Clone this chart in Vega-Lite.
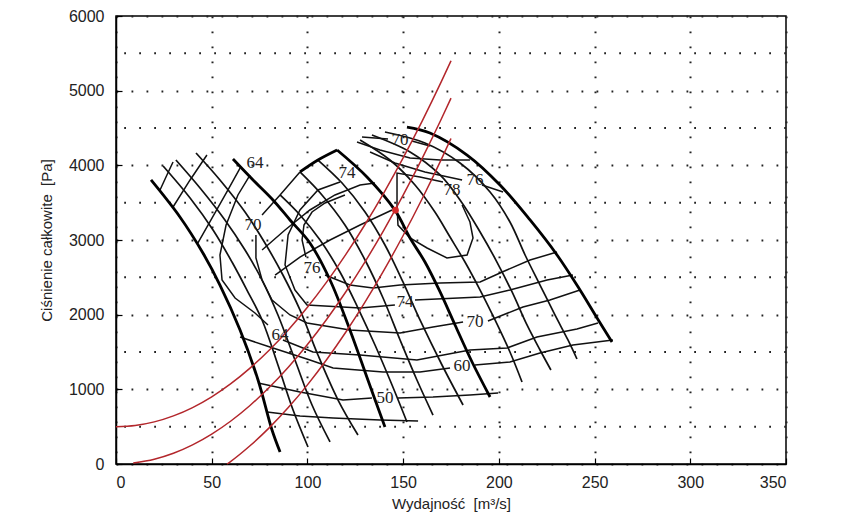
{
  "$schema": "https://vega.github.io/schema/vega-lite/v6.json",
  "width": 670,
  "height": 448,
  "autosize": {"type": "none"},
  "padding": {"left": 116, "top": 16, "right": 55, "bottom": 61},
  "background": "white",
  "config": {
    "view": {"stroke": "black", "strokeWidth": 1.5},
    "axis": {
      "domainColor": "black", "domainWidth": 1.5,
      "tickColor": "black", "tickWidth": 1.2, "tickSize": -6,
      "grid": true, "gridColor": "#222222", "gridWidth": 2, "gridDash": [1.8, 13.2], "gridOpacity": 1,
      "labelFont": "Liberation Sans", "labelFontSize": 16, "labelColor": "#222222",
      "titleFont": "Liberation Sans", "titleFontSize": 15, "titleFontWeight": "normal", "titleColor": "#222222"
    }
  },
  "datasets": {
    "halfgrid": [{"g":500},{"g":1500},{"g":2500},{"g":3500},{"g":4500},{"g":5500}],
    "curves": [
      {"id":"R1","k":"red","o":0,"x":0,"y":500},{"id":"R1","k":"red","o":1,"x":10,"y":516},{"id":"R1","k":"red","o":2,"x":20,"y":564},{"id":"R1","k":"red","o":3,"x":30,"y":644},{"id":"R1","k":"red","o":4,"x":40,"y":756},{"id":"R1","k":"red","o":5,"x":50,"y":900},{"id":"R1","k":"red","o":6,"x":60,"y":1076},{"id":"R1","k":"red","o":7,"x":70,"y":1284},{"id":"R1","k":"red","o":8,"x":80,"y":1524},{"id":"R1","k":"red","o":9,"x":90,"y":1796},{"id":"R1","k":"red","o":10,"x":100,"y":2100},{"id":"R1","k":"red","o":11,"x":110,"y":2436},{"id":"R1","k":"red","o":12,"x":120,"y":2804},{"id":"R1","k":"red","o":13,"x":130,"y":3204},{"id":"R1","k":"red","o":14,"x":140,"y":3636},{"id":"R1","k":"red","o":15,"x":150,"y":4100},{"id":"R1","k":"red","o":16,"x":160,"y":4596},{"id":"R1","k":"red","o":17,"x":170,"y":5124},{"id":"R1","k":"red","o":18,"x":175,"y":5400},
      {"id":"R2","k":"red","o":0,"x":9,"y":13},{"id":"R2","k":"red","o":1,"x":20,"y":64},{"id":"R2","k":"red","o":2,"x":30,"y":144},{"id":"R2","k":"red","o":3,"x":40,"y":256},{"id":"R2","k":"red","o":4,"x":50,"y":400},{"id":"R2","k":"red","o":5,"x":60,"y":576},{"id":"R2","k":"red","o":6,"x":70,"y":784},{"id":"R2","k":"red","o":7,"x":80,"y":1024},{"id":"R2","k":"red","o":8,"x":90,"y":1296},{"id":"R2","k":"red","o":9,"x":100,"y":1600},{"id":"R2","k":"red","o":10,"x":110,"y":1936},{"id":"R2","k":"red","o":11,"x":120,"y":2304},{"id":"R2","k":"red","o":12,"x":130,"y":2704},{"id":"R2","k":"red","o":13,"x":140,"y":3136},{"id":"R2","k":"red","o":14,"x":150,"y":3600},{"id":"R2","k":"red","o":15,"x":160,"y":4096},{"id":"R2","k":"red","o":16,"x":170,"y":4624},{"id":"R2","k":"red","o":17,"x":175,"y":4900},
      {"id":"R3","k":"red","o":0,"x":58,"y":0},{"id":"R3","k":"red","o":1,"x":60,"y":36},{"id":"R3","k":"red","o":2,"x":70,"y":244},{"id":"R3","k":"red","o":3,"x":80,"y":484},{"id":"R3","k":"red","o":4,"x":90,"y":756},{"id":"R3","k":"red","o":5,"x":100,"y":1060},{"id":"R3","k":"red","o":6,"x":110,"y":1396},{"id":"R3","k":"red","o":7,"x":120,"y":1764},{"id":"R3","k":"red","o":8,"x":130,"y":2164},{"id":"R3","k":"red","o":9,"x":140,"y":2596},{"id":"R3","k":"red","o":10,"x":150,"y":3060},{"id":"R3","k":"red","o":11,"x":160,"y":3556},{"id":"R3","k":"red","o":12,"x":170,"y":4084},{"id":"R3","k":"red","o":13,"x":175,"y":4360},

      {"id":"G1D1","k":"thick","o":0,"x":18.3,"y":3804},{"id":"G1D1","k":"thick","o":1,"x":33.4,"y":3308},{"id":"G1D1","k":"thick","o":2,"x":45.4,"y":2826},{"id":"G1D1","k":"thick","o":3,"x":54.3,"y":2397},{"id":"G1D1","k":"thick","o":4,"x":64.8,"y":1795},{"id":"G1D1","k":"thick","o":5,"x":74.2,"y":1125},{"id":"G1D1","k":"thick","o":6,"x":81.5,"y":455},{"id":"G1D1","k":"thick","o":7,"x":85.7,"y":161},
      {"id":"G1D5","k":"thick","o":0,"x":61.1,"y":4085},{"id":"G1D5","k":"thick","o":1,"x":71.6,"y":3804},{"id":"G1D5","k":"thick","o":2,"x":82.0,"y":3536},{"id":"G1D5","k":"thick","o":3,"x":90.9,"y":3268},{"id":"G1D5","k":"thick","o":4,"x":101.3,"y":2960},{"id":"G1D5","k":"thick","o":5,"x":111.8,"y":2464},{"id":"G1D5","k":"thick","o":6,"x":122.2,"y":1795},{"id":"G1D5","k":"thick","o":7,"x":131.6,"y":1125},{"id":"G1D5","k":"thick","o":8,"x":140.5,"y":496},
      {"id":"G2T","k":"thick","o":0,"x":96.1,"y":3911},{"id":"G2T","k":"thick","o":1,"x":105.5,"y":4071},{"id":"G2T","k":"thick","o":2,"x":115.5,"y":4205},
      {"id":"G2D4","k":"thick","o":0,"x":115.5,"y":4205},{"id":"G2D4","k":"thick","o":1,"x":131.1,"y":3844},{"id":"G2D4","k":"thick","o":2,"x":145.7,"y":3400},{"id":"G2D4","k":"thick","o":3,"x":153.6,"y":3027},{"id":"G2D4","k":"thick","o":4,"x":161.4,"y":2705},{"id":"G2D4","k":"thick","o":5,"x":169.3,"y":2304},{"id":"G2D4","k":"thick","o":6,"x":177.1,"y":1862},{"id":"G2D4","k":"thick","o":7,"x":186.0,"y":1366},{"id":"G2D4","k":"thick","o":8,"x":195.4,"y":897},
      {"id":"G3O","k":"thick","o":0,"x":152.0,"y":4513},{"id":"G3O","k":"thick","o":1,"x":164.0,"y":4433},{"id":"G3O","k":"thick","o":2,"x":183.4,"y":4138},{"id":"G3O","k":"thick","o":3,"x":200.6,"y":3737},{"id":"G3O","k":"thick","o":4,"x":216.3,"y":3268},{"id":"G3O","k":"thick","o":5,"x":230.4,"y":2799},{"id":"G3O","k":"thick","o":6,"x":242.4,"y":2330},{"id":"G3O","k":"thick","o":7,"x":251.3,"y":1955},{"id":"G3O","k":"thick","o":8,"x":259.1,"y":1634},

      {"id":"G1D2","k":"thin","o":0,"x":24.6,"y":3991},{"id":"G1D2","k":"thin","o":1,"x":38.7,"y":3563},{"id":"G1D2","k":"thin","o":2,"x":50.7,"y":3134},{"id":"G1D2","k":"thin","o":3,"x":60.6,"y":2705},{"id":"G1D2","k":"thin","o":4,"x":68.4,"y":2330},{"id":"G1D2","k":"thin","o":5,"x":76.3,"y":1929},{"id":"G1D2","k":"thin","o":6,"x":84.6,"y":1326},{"id":"G1D2","k":"thin","o":7,"x":92.5,"y":723},{"id":"G1D2","k":"thin","o":8,"x":100.3,"y":228},
      {"id":"G1D3","k":"thin","o":0,"x":31.3,"y":4071},{"id":"G1D3","k":"thin","o":1,"x":43.9,"y":3696},{"id":"G1D3","k":"thin","o":2,"x":56.9,"y":3268},{"id":"G1D3","k":"thin","o":3,"x":67.4,"y":2866},{"id":"G1D3","k":"thin","o":4,"x":76.3,"y":2464},{"id":"G1D3","k":"thin","o":5,"x":84.6,"y":1996},{"id":"G1D3","k":"thin","o":6,"x":93.5,"y":1393},{"id":"G1D3","k":"thin","o":7,"x":102.4,"y":790},{"id":"G1D3","k":"thin","o":8,"x":111.8,"y":295},
      {"id":"G1D4","k":"thin","o":0,"x":41.8,"y":4165},{"id":"G1D4","k":"thin","o":1,"x":54.3,"y":3804},{"id":"G1D4","k":"thin","o":2,"x":67.4,"y":3375},{"id":"G1D4","k":"thin","o":3,"x":77.8,"y":2960},{"id":"G1D4","k":"thin","o":4,"x":87.2,"y":2531},{"id":"G1D4","k":"thin","o":5,"x":96.1,"y":2063},{"id":"G1D4","k":"thin","o":6,"x":105.5,"y":1460},{"id":"G1D4","k":"thin","o":7,"x":116.0,"y":857},{"id":"G1D4","k":"thin","o":8,"x":126.4,"y":388},
      {"id":"G2D1","k":"thin","o":0,"x":85.7,"y":3603},{"id":"G2D1","k":"thin","o":1,"x":96.1,"y":3335},{"id":"G2D1","k":"thin","o":2,"x":106.6,"y":3000},{"id":"G2D1","k":"thin","o":3,"x":117.0,"y":2571},{"id":"G2D1","k":"thin","o":4,"x":126.4,"y":2089},{"id":"G2D1","k":"thin","o":5,"x":135.3,"y":1594},{"id":"G2D1","k":"thin","o":6,"x":144.2,"y":1058},{"id":"G2D1","k":"thin","o":7,"x":152.0,"y":563},
      {"id":"G2D2","k":"thin","o":0,"x":96.1,"y":3911},{"id":"G2D2","k":"thin","o":1,"x":107.6,"y":3603},{"id":"G2D2","k":"thin","o":2,"x":119.6,"y":3201},{"id":"G2D2","k":"thin","o":3,"x":130.1,"y":2732},{"id":"G2D2","k":"thin","o":4,"x":139.5,"y":2223},{"id":"G2D2","k":"thin","o":5,"x":148.4,"y":1661},{"id":"G2D2","k":"thin","o":6,"x":157.2,"y":1125},{"id":"G2D2","k":"thin","o":7,"x":165.6,"y":656},
      {"id":"G2D3","k":"thin","o":0,"x":105.5,"y":4071},{"id":"G2D3","k":"thin","o":1,"x":118.1,"y":3763},{"id":"G2D3","k":"thin","o":2,"x":130.1,"y":3375},{"id":"G2D3","k":"thin","o":3,"x":140.5,"y":2933},{"id":"G2D3","k":"thin","o":4,"x":149.9,"y":2438},{"id":"G2D3","k":"thin","o":5,"x":158.8,"y":1929},{"id":"G2D3","k":"thin","o":6,"x":170.3,"y":1326},{"id":"G2D3","k":"thin","o":7,"x":181.3,"y":790},
      {"id":"G3D1","k":"thin","o":0,"x":127.5,"y":4339},{"id":"G3D1","k":"thin","o":1,"x":143.1,"y":4071},{"id":"G3D1","k":"thin","o":2,"x":156.2,"y":3737},{"id":"G3D1","k":"thin","o":3,"x":166.6,"y":3375},{"id":"G3D1","k":"thin","o":4,"x":174.5,"y":3040},{"id":"G3D1","k":"thin","o":5,"x":182.3,"y":2705},{"id":"G3D1","k":"thin","o":6,"x":190.2,"y":2330},{"id":"G3D1","k":"thin","o":7,"x":198.0,"y":1929},{"id":"G3D1","k":"thin","o":8,"x":205.8,"y":1500},{"id":"G3D1","k":"thin","o":9,"x":212.1,"y":1098},
      {"id":"G3D2","k":"thin","o":0,"x":133.7,"y":4406},{"id":"G3D2","k":"thin","o":1,"x":153.6,"y":4179},{"id":"G3D2","k":"thin","o":2,"x":169.3,"y":3871},{"id":"G3D2","k":"thin","o":3,"x":180.8,"y":3496},{"id":"G3D2","k":"thin","o":4,"x":190.2,"y":3107},{"id":"G3D2","k":"thin","o":5,"x":199.0,"y":2705},{"id":"G3D2","k":"thin","o":6,"x":206.9,"y":2304},{"id":"G3D2","k":"thin","o":7,"x":214.7,"y":1862},{"id":"G3D2","k":"thin","o":8,"x":221.5,"y":1527},{"id":"G3D2","k":"thin","o":9,"x":227.2,"y":1259},
      {"id":"G3D3","k":"thin","o":0,"x":140.5,"y":4446},{"id":"G3D3","k":"thin","o":1,"x":161.4,"y":4299},{"id":"G3D3","k":"thin","o":2,"x":179.7,"y":4031},{"id":"G3D3","k":"thin","o":3,"x":195.4,"y":3643},{"id":"G3D3","k":"thin","o":4,"x":205.8,"y":3241},{"id":"G3D3","k":"thin","o":5,"x":213.7,"y":2799},{"id":"G3D3","k":"thin","o":6,"x":221.5,"y":2397},{"id":"G3D3","k":"thin","o":7,"x":229.3,"y":1996},{"id":"G3D3","k":"thin","o":8,"x":236.1,"y":1661},{"id":"G3D3","k":"thin","o":9,"x":240.8,"y":1406},

      {"id":"G2L","k":"poly","o":0,"x":76.3,"y":3335},{"id":"G2L","k":"poly","o":1,"x":85.7,"y":3603},{"id":"G2L","k":"poly","o":2,"x":96.1,"y":3911},
      {"id":"H1","k":"poly","o":0,"x":78.9,"y":696},{"id":"H1","k":"poly","o":1,"x":96.1,"y":643},{"id":"H1","k":"poly","o":2,"x":113.4,"y":616},{"id":"H1","k":"poly","o":3,"x":137.9,"y":589},{"id":"H1","k":"poly","o":4,"x":157.8,"y":576},
      {"id":"H2a","k":"poly","o":0,"x":74.2,"y":1085},{"id":"H2a","k":"poly","o":1,"x":96.1,"y":964},{"id":"H2a","k":"poly","o":2,"x":118.6,"y":857},{"id":"H2a","k":"poly","o":3,"x":133.7,"y":884},
      {"id":"H2b","k":"poly","o":0,"x":147.3,"y":884},{"id":"H2b","k":"poly","o":1,"x":165.6,"y":897},{"id":"H2b","k":"poly","o":2,"x":184.9,"y":924},{"id":"H2b","k":"poly","o":3,"x":199.6,"y":951},
      {"id":"H3a","k":"poly","o":0,"x":64.8,"y":1701},{"id":"H3a","k":"poly","o":1,"x":80.4,"y":1567},{"id":"H3a","k":"poly","o":2,"x":101.3,"y":1393},{"id":"H3a","k":"poly","o":3,"x":113.4,"y":1286},{"id":"H3a","k":"poly","o":4,"x":139.5,"y":1232},{"id":"H3a","k":"poly","o":5,"x":158.8,"y":1232},{"id":"H3a","k":"poly","o":6,"x":174.5,"y":1286},
      {"id":"H3b","k":"poly","o":0,"x":187.5,"y":1326},{"id":"H3b","k":"poly","o":1,"x":205.8,"y":1366},{"id":"H3b","k":"poly","o":2,"x":221.5,"y":1487},{"id":"H3b","k":"poly","o":3,"x":238.7,"y":1594},{"id":"H3b","k":"poly","o":4,"x":259.6,"y":1661},
      {"id":"HA","k":"poly","o":0,"x":87.2,"y":1661},{"id":"HA","k":"poly","o":1,"x":102.9,"y":1500},{"id":"HA","k":"poly","o":2,"x":127.5,"y":1460},{"id":"HA","k":"poly","o":3,"x":157.2,"y":1393},{"id":"HA","k":"poly","o":4,"x":184.9,"y":1527},{"id":"HA","k":"poly","o":5,"x":204.3,"y":1554},{"id":"HA","k":"poly","o":6,"x":219.9,"y":1701},{"id":"HA","k":"poly","o":7,"x":240.8,"y":1808},{"id":"HA","k":"poly","o":8,"x":251.8,"y":1888},
      {"id":"c70a","k":"poly","o":0,"x":73.1,"y":3067},{"id":"c70a","k":"poly","o":1,"x":73.1,"y":2759},{"id":"c70a","k":"poly","o":2,"x":76.3,"y":2464},{"id":"c70a","k":"poly","o":3,"x":81.5,"y":2196},{"id":"c70a","k":"poly","o":4,"x":90.9,"y":1996},{"id":"c70a","k":"poly","o":5,"x":99.8,"y":1888},{"id":"c70a","k":"poly","o":6,"x":122.2,"y":1795},{"id":"c70a","k":"poly","o":7,"x":148.4,"y":1754},{"id":"c70a","k":"poly","o":8,"x":165.6,"y":1835},{"id":"c70a","k":"poly","o":9,"x":181.3,"y":1902},
      {"id":"c70b","k":"poly","o":0,"x":194.3,"y":1915},{"id":"c70b","k":"poly","o":1,"x":212.6,"y":2103},{"id":"c70b","k":"poly","o":2,"x":226.7,"y":2196},{"id":"c70b","k":"poly","o":3,"x":242.4,"y":2330},
      {"id":"c74a","k":"poly","o":0,"x":117.0,"y":3777},{"id":"c74a","k":"poly","o":1,"x":105.5,"y":3670},{"id":"c74a","k":"poly","o":2,"x":96.1,"y":3402},{"id":"c74a","k":"poly","o":3,"x":89.9,"y":3067},{"id":"c74a","k":"poly","o":4,"x":88.3,"y":2665},{"id":"c74a","k":"poly","o":5,"x":93.5,"y":2330},{"id":"c74a","k":"poly","o":6,"x":99.8,"y":2130},{"id":"c74a","k":"poly","o":7,"x":127.5,"y":2089},{"id":"c74a","k":"poly","o":8,"x":145.7,"y":2130},
      {"id":"c74b","k":"poly","o":0,"x":156.2,"y":2196},{"id":"c74b","k":"poly","o":1,"x":190.2,"y":2237},{"id":"c74b","k":"poly","o":2,"x":205.8,"y":2330},{"id":"c74b","k":"poly","o":3,"x":225.2,"y":2464},{"id":"c74b","k":"poly","o":4,"x":238.7,"y":2531},
      {"id":"c76a","k":"poly","o":0,"x":99.2,"y":2772},{"id":"c76a","k":"poly","o":1,"x":97.2,"y":3000},{"id":"c76a","k":"poly","o":2,"x":98.2,"y":3201},{"id":"c76a","k":"poly","o":3,"x":102.4,"y":3375},{"id":"c76a","k":"poly","o":4,"x":109.2,"y":3496},{"id":"c76a","k":"poly","o":5,"x":119.6,"y":3603},
      {"id":"c76b","k":"poly","o":0,"x":109.2,"y":2531},{"id":"c76b","k":"poly","o":1,"x":122.2,"y":2397},{"id":"c76b","k":"poly","o":2,"x":134.3,"y":2357},{"id":"c76b","k":"poly","o":3,"x":148.4,"y":2397},{"id":"c76b","k":"poly","o":4,"x":169.3,"y":2424},{"id":"c76b","k":"poly","o":5,"x":190.2,"y":2438},{"id":"c76b","k":"poly","o":6,"x":200.6,"y":2558},{"id":"c76b","k":"poly","o":7,"x":216.3,"y":2732},{"id":"c76b","k":"poly","o":8,"x":230.4,"y":2839},
      {"id":"c78","k":"poly","o":0,"x":170.8,"y":3777},{"id":"c78","k":"poly","o":1,"x":158.8,"y":3844},{"id":"c78","k":"poly","o":2,"x":146.8,"y":3897},{"id":"c78","k":"poly","o":3,"x":146.8,"y":3469},{"id":"c78","k":"poly","o":4,"x":147.3,"y":3200},{"id":"c78","k":"poly","o":5,"x":153.6,"y":3027},{"id":"c78","k":"poly","o":6,"x":162.5,"y":2893},{"id":"c78","k":"poly","o":7,"x":172.9,"y":2759},{"id":"c78","k":"poly","o":8,"x":183.4,"y":2799},{"id":"c78","k":"poly","o":9,"x":186.5,"y":3027},{"id":"c78","k":"poly","o":10,"x":184.9,"y":3241},{"id":"c78","k":"poly","o":11,"x":180.8,"y":3469},
      {"id":"c70t1","k":"poly","o":0,"x":128.5,"y":4379},{"id":"c70t1","k":"poly","o":1,"x":142.1,"y":4352},
      {"id":"c70t2","k":"poly","o":0,"x":154.6,"y":4326},{"id":"c70t2","k":"poly","o":1,"x":164.0,"y":4259},
      {"id":"c64","k":"poly","o":0,"x":70.0,"y":3870},{"id":"c64","k":"poly","o":1,"x":63.7,"y":3603},{"id":"c64","k":"poly","o":2,"x":57.5,"y":3201},{"id":"c64","k":"poly","o":3,"x":54.3,"y":2799},{"id":"c64","k":"poly","o":4,"x":55.4,"y":2464},{"id":"c64","k":"poly","o":5,"x":62.2,"y":2223},{"id":"c64","k":"poly","o":6,"x":72.6,"y":2022},{"id":"c64","k":"poly","o":7,"x":79.4,"y":1862},
      {"id":"X1","k":"poly","o":0,"x":23.0,"y":3670},{"id":"X1","k":"poly","o":1,"x":26.6,"y":3871},{"id":"X1","k":"poly","o":2,"x":29.8,"y":4045},
      {"id":"X2","k":"poly","o":0,"x":29.8,"y":3442},{"id":"X2","k":"poly","o":1,"x":38.7,"y":3804},{"id":"X2","k":"poly","o":2,"x":47.5,"y":4138},
      {"id":"X3","k":"poly","o":0,"x":42.8,"y":2960},{"id":"X3","k":"poly","o":1,"x":51.7,"y":3362},{"id":"X3","k":"poly","o":2,"x":58.5,"y":3670},{"id":"X3","k":"poly","o":3,"x":64.8,"y":3964},
      {"id":"M2","k":"poly","o":0,"x":76.3,"y":2866},{"id":"M2","k":"poly","o":1,"x":88.3,"y":3134},{"id":"M2","k":"poly","o":2,"x":101.3,"y":3402},{"id":"M2","k":"poly","o":3,"x":114.4,"y":3603},{"id":"M2","k":"poly","o":4,"x":127.5,"y":3737},{"id":"M2","k":"poly","o":5,"x":135.3,"y":3763},
      {"id":"M3","k":"poly","o":0,"x":83.1,"y":2531},{"id":"M3","k":"poly","o":1,"x":96.1,"y":2772},{"id":"M3","k":"poly","o":2,"x":111.8,"y":3000},{"id":"M3","k":"poly","o":3,"x":127.5,"y":3201},{"id":"M3","k":"poly","o":4,"x":144.2,"y":3402},
      {"id":"T1","k":"poly","o":0,"x":125.9,"y":4312},{"id":"T1","k":"poly","o":1,"x":137.9,"y":4205},{"id":"T1","k":"poly","o":2,"x":153.6,"y":4098},{"id":"T1","k":"poly","o":3,"x":169.3,"y":4071},{"id":"T1","k":"poly","o":4,"x":184.9,"y":4071},
      {"id":"T2","k":"poly","o":0,"x":132.7,"y":4178},{"id":"T2","k":"poly","o":1,"x":145.7,"y":4031},{"id":"T2","k":"poly","o":2,"x":161.4,"y":3911},{"id":"T2","k":"poly","o":3,"x":180.8,"y":3804},
      {"id":"L76","k":"poly","o":0,"x":191.2,"y":3737},{"id":"L76","k":"poly","o":1,"x":202.2,"y":3643}
    ],
    "labels": [
      {"t":"64","x":72.6,"y":4031},{"t":"70","x":71.6,"y":3201},{"t":"74","x":120.7,"y":3897},{"t":"70","x":148.4,"y":4338},
      {"t":"78","x":175.5,"y":3670},{"t":"76","x":187.5,"y":3804},{"t":"76","x":102.4,"y":2625},{"t":"74","x":151.0,"y":2170},
      {"t":"64","x":85.7,"y":1728},{"t":"70","x":187.5,"y":1902},{"t":"60","x":180.7,"y":1313},{"t":"50","x":140.5,"y":884}
    ],
    "point": [{"x":146,"y":3400}]
  },
  "layer": [
    {
      "data": {"name": "halfgrid"},
      "mark": {"type": "rule", "color": "#222222", "strokeWidth": 2, "strokeDash": [1.8, 13.2]},
      "encoding": {
        "y": {"field": "g", "type": "quantitative", "scale": {"domain": [0, 6000], "nice": false},
              "axis": {"values": [0, 500, 1000, 1500, 2000, 2500, 3000, 3500, 4000, 4500, 5000, 5500, 6000],
                       "format": "d",
                       "labelExpr": "datum.value % 1000 === 0 ? datum.label : ''",
                       "title": "Ciśnienie całkowite\u00a0 [Pa]", "labelPadding": 18, "titlePadding": 14}}
      }
    },
    {
      "data": {"name": "curves"},
      "transform": [{"filter": "datum.k === 'poly'"}],
      "mark": {"type": "line", "interpolate": "linear", "color": "#111111", "strokeWidth": 1.5},
      "encoding": {
        "x": {"field": "x", "type": "quantitative", "scale": {"domain": [0, 350], "nice": false},
              "axis": {"values": [0, 50, 100, 150, 200, 250, 300, 350], "format": "d", "title": "Wydajność\u00a0 [m³/s]", "labelPadding": 16, "titlePadding": 6}},
        "y": {"field": "y", "type": "quantitative"},
        "detail": {"field": "id"},
        "order": {"field": "o", "type": "quantitative"}
      }
    },
    {
      "data": {"name": "curves"},
      "transform": [{"filter": "datum.k === 'thin'"}],
      "mark": {"type": "line", "interpolate": "catmull-rom", "color": "#111111", "strokeWidth": 1.7},
      "encoding": {
        "x": {"field": "x", "type": "quantitative"},
        "y": {"field": "y", "type": "quantitative"},
        "detail": {"field": "id"},
        "order": {"field": "o", "type": "quantitative"}
      }
    },
    {
      "data": {"name": "curves"},
      "transform": [{"filter": "datum.k === 'thick'"}],
      "mark": {"type": "line", "interpolate": "catmull-rom", "color": "#000000", "strokeWidth": 2.8},
      "encoding": {
        "x": {"field": "x", "type": "quantitative"},
        "y": {"field": "y", "type": "quantitative"},
        "detail": {"field": "id"},
        "order": {"field": "o", "type": "quantitative"}
      }
    },
    {
      "data": {"name": "curves"},
      "transform": [{"filter": "datum.k === 'red'"}],
      "mark": {"type": "line", "interpolate": "monotone", "color": "#b3262b", "strokeWidth": 1.5},
      "encoding": {
        "x": {"field": "x", "type": "quantitative"},
        "y": {"field": "y", "type": "quantitative"},
        "detail": {"field": "id"},
        "order": {"field": "o", "type": "quantitative"}
      }
    },
    {
      "data": {"name": "point"},
      "mark": {"type": "circle", "color": "#d42a2a", "size": 45, "opacity": 1},
      "encoding": {
        "x": {"field": "x", "type": "quantitative"},
        "y": {"field": "y", "type": "quantitative"}
      }
    },
    {
      "data": {"name": "labels"},
      "mark": {"type": "text", "font": "Liberation Serif", "fontSize": 17, "color": "#222222", "align": "center", "baseline": "middle"},
      "encoding": {
        "x": {"field": "x", "type": "quantitative"},
        "y": {"field": "y", "type": "quantitative"},
        "text": {"field": "t"}
      }
    }
  ]
}
